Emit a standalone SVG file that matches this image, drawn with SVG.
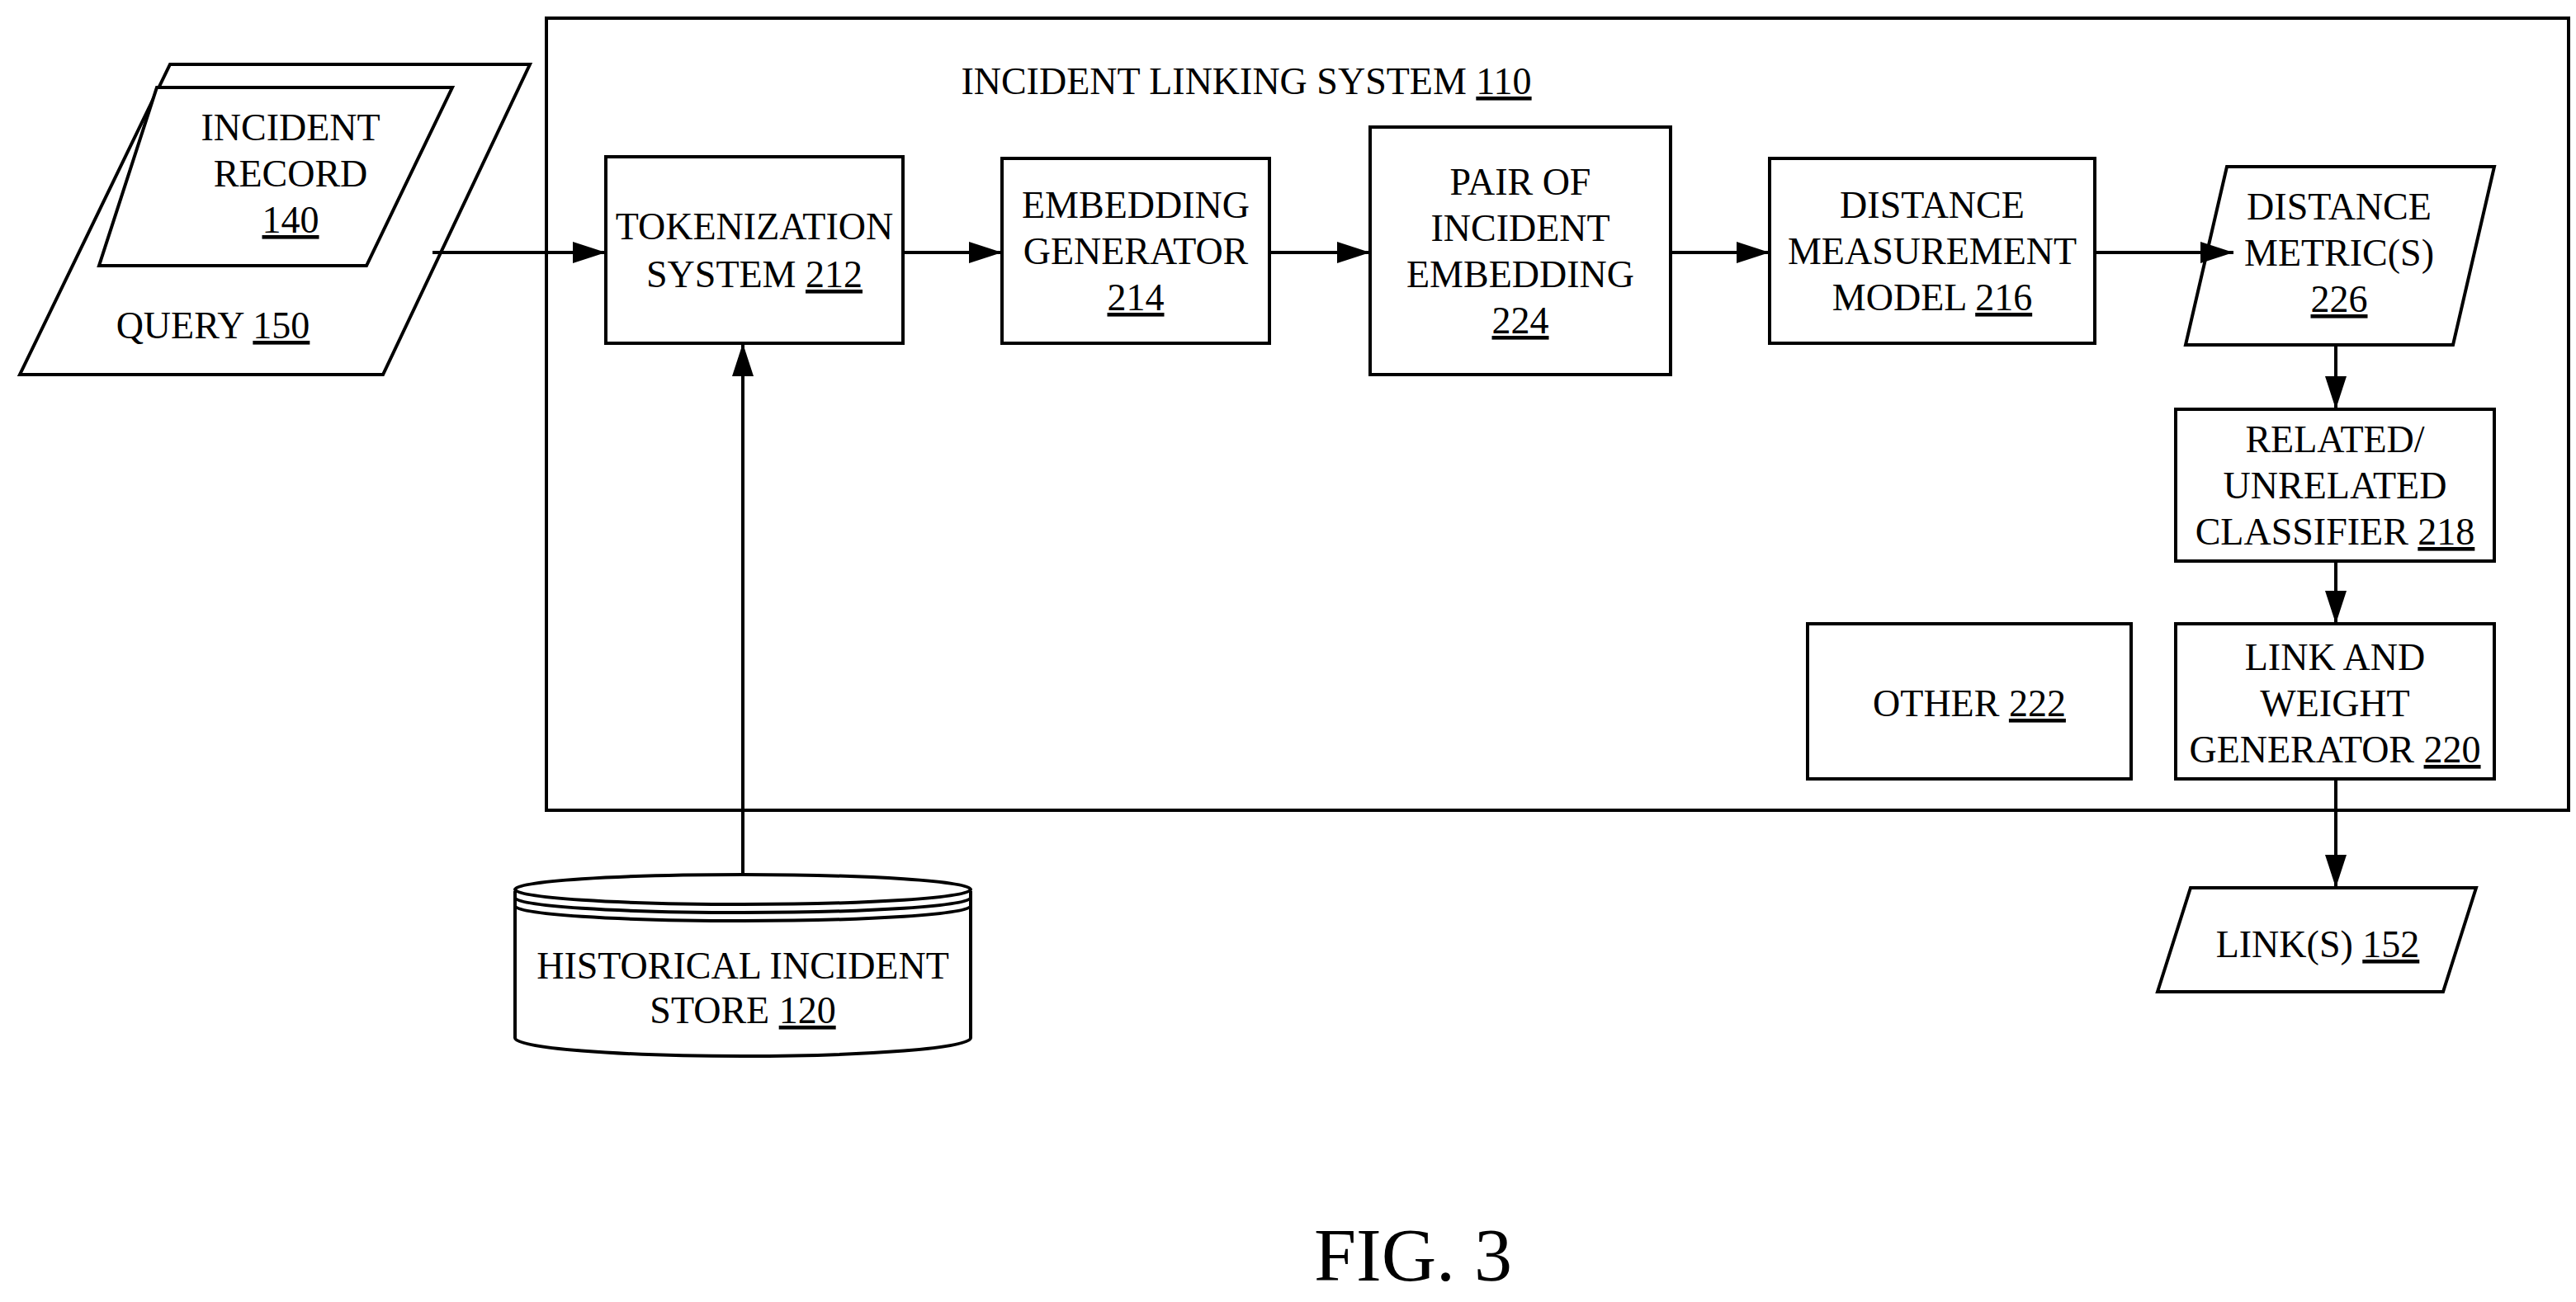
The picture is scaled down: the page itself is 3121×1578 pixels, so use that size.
<svg xmlns="http://www.w3.org/2000/svg" width="3121" height="1578" viewBox="0 0 3121 1578">
<defs>
<marker id="ah" markerWidth="40" markerHeight="26" refX="40" refY="13" orient="auto" markerUnits="userSpaceOnUse" viewBox="0 0 40 26"><path d="M0,0L40,13L0,26z" fill="#000"/></marker>
<style>
.s{fill:#fff;stroke:#000;stroke-width:4}
.t{font-family:"Liberation Serif",serif;font-size:46px;text-anchor:middle}
.c{stroke:#000;stroke-width:4;fill:none;marker-end:url(#ah)}
</style>
</defs>
<rect width="3121" height="1578" fill="#fff"/>
<g id="system"><rect class="s" x="662" y="22" width="2450" height="960"/>
<text class="t" x="1510" y="114">INCIDENT LINKING SYSTEM <tspan text-decoration="underline">110</tspan></text></g>
<g id="query"><polygon class="s" points="206,78 642,78 464,454 24,454"/>
<polygon class="s" points="190,106 548,106 444,322 120,322"/>
<text class="t" x="352" y="170">INCIDENT</text><text class="t" x="352" y="226">RECORD</text><text class="t" x="352" y="282" text-decoration="underline">140</text>
<text class="t" x="258" y="410">QUERY <tspan text-decoration="underline">150</tspan></text></g>
<g id="tok"><rect class="s" x="734" y="190" width="360" height="226"/><text class="t" x="914" y="290">TOKENIZATION</text><text class="t" x="914" y="348">SYSTEM <tspan text-decoration="underline">212</tspan></text></g>
<g id="emb"><rect class="s" x="1214" y="192" width="324" height="224"/><text class="t" x="1376" y="264">EMBEDDING</text><text class="t" x="1376" y="320">GENERATOR</text><text class="t" x="1376" y="376" text-decoration="underline">214</text></g>
<g id="pair"><rect class="s" x="1660" y="154" width="364" height="300"/><text class="t" x="1842" y="236">PAIR OF</text><text class="t" x="1842" y="292">INCIDENT</text><text class="t" x="1842" y="348">EMBEDDING</text><text class="t" x="1842" y="404" text-decoration="underline">224</text></g>
<g id="dmm"><rect class="s" x="2144" y="192" width="394" height="224"/><text class="t" x="2341" y="264">DISTANCE</text><text class="t" x="2341" y="320">MEASUREMENT</text><text class="t" x="2341" y="376">MODEL <tspan text-decoration="underline">216</tspan></text></g>
<g id="metric"><polygon class="s" points="2698,202 3022,202 2972,418 2648,418"/><text class="t" x="2834" y="266">DISTANCE</text><text class="t" x="2834" y="322">METRIC(S)</text><text class="t" x="2834" y="378" text-decoration="underline">226</text></g>
<g id="cls"><rect class="s" x="2636" y="496" width="386" height="184"/><text class="t" x="2829" y="548">RELATED/</text><text class="t" x="2829" y="604">UNRELATED</text><text class="t" x="2829" y="660">CLASSIFIER <tspan text-decoration="underline">218</tspan></text></g>
<g id="link"><rect class="s" x="2636" y="756" width="386" height="188"/><text class="t" x="2829" y="812">LINK AND</text><text class="t" x="2829" y="868">WEIGHT</text><text class="t" x="2829" y="924">GENERATOR <tspan text-decoration="underline">220</tspan></text></g>
<g id="other"><rect class="s" x="2190" y="756" width="392" height="188"/><text class="t" x="2386" y="868">OTHER <tspan text-decoration="underline">222</tspan></text></g>
<g id="links"><polygon class="s" points="2654,1076 3000,1076 2960,1202 2614,1202"/><text class="t" x="2808" y="1160">LINK(S) <tspan text-decoration="underline">152</tspan></text></g>
<g id="store"><path class="s" d="M624,1080 V1258 A276,22 0 0 0 1176,1258 V1080"/>
<ellipse class="s" cx="900" cy="1078" rx="276" ry="18"/>
<path d="M624,1088 A276,18 0 0 0 1176,1088 M624,1098 A276,18 0 0 0 1176,1098" fill="none" stroke="#000" stroke-width="4"/>
<text class="t" x="900" y="1186">HISTORICAL INCIDENT</text><text class="t" x="900" y="1240">STORE <tspan text-decoration="underline">120</tspan></text></g>
<g id="connectors">
<path class="c" d="M524,306H734"/><path class="c" d="M1094,306H1214"/><path class="c" d="M1538,306H1660"/><path class="c" d="M2024,306H2144"/><path class="c" d="M2538,306H2706"/>
<path class="c" d="M2830,418V496"/><path class="c" d="M2830,680V756"/><path class="c" d="M2830,944V1076"/><path class="c" d="M900,1060V416"/>
</g>
<text x="1712" y="1552" font-family="Liberation Serif,serif" font-size="92" text-anchor="middle">FIG. 3</text>
</svg>
